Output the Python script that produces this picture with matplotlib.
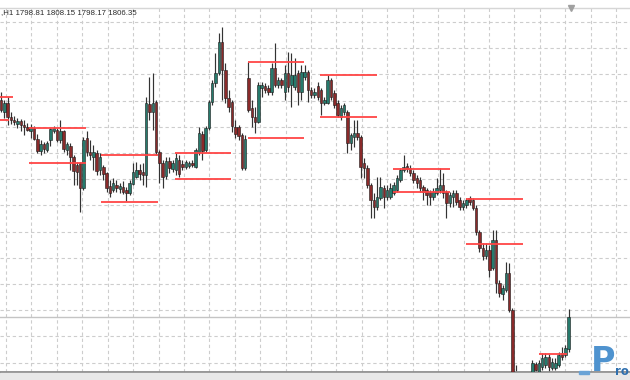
import matplotlib
matplotlib.use('Agg')
import matplotlib.pyplot as plt
import numpy as np
from matplotlib.patches import Rectangle

# H1 bars, oldest first
opens = [
    1857.5, 1854.7, 1856.8, 1853.5, 1852.8, 1851.9, 1852.6, 1851.6, 1851.2, 1850.2,
    1850.9, 1848.3, 1845.5, 1847.2, 1845.7, 1848.1, 1850.2, 1850.5, 1848.1, 1850.2,
    1845.7, 1846.7, 1844.1, 1842.2, 1842.7, 1836.8, 1848.6, 1845.3, 1844.1, 1845.0,
    1841.0, 1841.7, 1840.3, 1837.2, 1836.3, 1837.5, 1836.5, 1837.0, 1836.3, 1835.6,
    1837.7, 1839.4, 1841.0, 1840.5, 1839.8, 1856.6, 1854.7, 1857.1, 1845.3, 1842.7,
    1839.6, 1843.1, 1841.3, 1841.0, 1843.4, 1842.4, 1841.7, 1842.0, 1842.7, 1841.7,
    1845.3, 1849.5, 1845.7, 1850.9, 1857.1, 1861.5, 1863.9, 1871.2, 1864.6, 1858.0,
    1857.1, 1851.2, 1851.2, 1849.3, 1841.5, 1862.7, 1855.6, 1853.5, 1852.3, 1860.4,
    1860.8, 1860.4, 1859.4, 1865.1, 1861.1, 1862.2, 1859.4, 1863.9, 1861.1, 1860.6,
    1863.9, 1859.4, 1862.9, 1864.1, 1859.9, 1858.7, 1860.8, 1859.9, 1856.8, 1856.8,
    1862.2, 1859.2, 1856.8, 1853.5, 1854.7, 1854.7, 1847.4, 1848.8, 1849.7, 1848.8,
    1842.7, 1841.5, 1837.5, 1833.9, 1832.3, 1834.4, 1836.8, 1834.7, 1834.7, 1835.6,
    1836.3, 1838.7, 1841.0, 1842.0, 1841.5, 1840.3, 1839.1, 1838.7, 1837.0, 1836.3,
    1835.8, 1834.7, 1835.6, 1836.3, 1837.5, 1835.8, 1833.2, 1834.7, 1835.6, 1833.9,
    1832.3, 1832.8, 1834.4, 1833.9, 1832.1, 1826.4, 1822.6, 1820.7, 1822.2, 1817.9,
    1824.5, 1814.4, 1811.8, 1812.7, 1816.7, 1808.0, 1790.3, 1788.0, 1786.8, 1789.1,
    1787.3, 1792.4, 1795.3, 1793.4, 1794.6, 1795.0, 1796.9, 1794.3, 1794.3, 1795.0,
    1797.9, 1797.4, 1798.81]
highs = [
    1859.4, 1857.5, 1858.2, 1854.7, 1853.8, 1853.3, 1853.0, 1852.8, 1852.1, 1851.9,
    1851.4, 1849.5, 1848.1, 1847.6, 1847.9, 1850.9, 1851.4, 1850.9, 1852.8, 1850.5,
    1847.6, 1847.4, 1844.6, 1842.9, 1842.9, 1848.8, 1850.2, 1848.1, 1846.9, 1845.7,
    1845.0, 1842.2, 1840.5, 1838.7, 1839.1, 1838.7, 1838.0, 1838.4, 1837.0, 1838.7,
    1842.7, 1842.9, 1842.4, 1842.7, 1858.2, 1862.9, 1863.9, 1857.5, 1845.7, 1843.4,
    1844.1, 1844.1, 1843.4, 1845.0, 1844.6, 1843.4, 1843.4, 1843.1, 1843.4, 1846.2,
    1851.2, 1850.2, 1851.4, 1857.5, 1862.2, 1868.6, 1873.3, 1874.7, 1866.2, 1859.9,
    1857.5, 1852.8, 1851.6, 1849.7, 1849.3, 1866.5, 1857.5, 1855.9, 1861.8, 1861.8,
    1861.5, 1861.1, 1866.2, 1871.0, 1862.9, 1862.7, 1865.8, 1868.8, 1868.6, 1867.4,
    1864.6, 1865.8, 1865.8, 1864.6, 1860.6, 1860.4, 1861.8, 1860.4, 1858.2, 1863.4,
    1862.7, 1859.9, 1857.5, 1856.3, 1856.8, 1855.2, 1849.7, 1852.8, 1852.8, 1849.3,
    1843.8, 1842.2, 1838.0, 1835.6, 1839.4, 1839.4, 1837.5, 1837.5, 1838.0, 1838.2,
    1839.8, 1841.5, 1844.6, 1842.7, 1842.2, 1841.0, 1839.8, 1839.4, 1837.5, 1836.8,
    1836.3, 1836.8, 1839.1, 1841.5, 1840.3, 1836.3, 1835.8, 1836.3, 1836.3, 1834.7,
    1833.9, 1834.4, 1834.9, 1834.4, 1832.8, 1826.9, 1823.8, 1823.8, 1823.3, 1826.9,
    1826.9, 1815.1, 1813.9, 1819.3, 1819.1, 1808.5, 1795.0, 1790.3, 1791.5, 1792.0,
    1792.4, 1796.2, 1795.7, 1796.2, 1797.9, 1797.9, 1797.6, 1796.7, 1796.7, 1798.1,
    1799.3, 1799.8, 1808.15]
lows = [
    1854.7, 1853.3, 1851.6, 1851.9, 1851.6, 1850.9, 1850.2, 1849.3, 1850.2, 1848.6,
    1848.1, 1845.0, 1844.6, 1845.0, 1845.3, 1846.7, 1849.7, 1847.6, 1847.4, 1845.3,
    1844.6, 1841.0, 1837.5, 1837.5, 1831.1, 1836.3, 1844.3, 1843.4, 1841.0, 1839.8,
    1839.8, 1838.7, 1835.8, 1834.7, 1835.8, 1835.8, 1835.6, 1835.4, 1833.7, 1835.1,
    1837.5, 1839.1, 1838.7, 1837.5, 1837.0, 1852.8, 1850.5, 1844.6, 1838.0, 1836.8,
    1838.9, 1840.3, 1840.5, 1839.8, 1839.4, 1841.0, 1841.3, 1841.5, 1841.7, 1841.5,
    1844.6, 1843.4, 1845.3, 1850.5, 1856.3, 1860.6, 1863.4, 1857.5, 1856.8, 1854.7,
    1850.0, 1848.6, 1848.1, 1841.0, 1841.0, 1854.7, 1851.2, 1849.7, 1852.1, 1858.2,
    1859.2, 1858.7, 1858.7, 1860.6, 1860.4, 1860.4, 1857.5, 1859.4, 1855.9, 1859.9,
    1856.3, 1857.5, 1862.2, 1857.1, 1858.0, 1858.0, 1857.5, 1854.0, 1856.3, 1856.6,
    1857.5, 1855.6, 1853.5, 1852.8, 1854.0, 1845.0, 1845.7, 1846.4, 1848.1, 1839.1,
    1839.1, 1836.8, 1829.7, 1829.7, 1831.6, 1833.9, 1832.1, 1833.9, 1834.2, 1835.1,
    1835.8, 1838.2, 1840.5, 1840.5, 1839.6, 1838.0, 1836.8, 1835.8, 1833.9, 1832.8,
    1832.8, 1833.9, 1835.1, 1835.6, 1834.4, 1829.7, 1832.3, 1832.3, 1832.8, 1831.6,
    1831.6, 1832.1, 1832.8, 1831.6, 1825.7, 1821.7, 1819.8, 1820.0, 1815.8, 1817.4,
    1812.0, 1811.1, 1810.4, 1812.2, 1807.5, 1789.1, 1786.8, 1784.4, 1785.6, 1786.3,
    1786.8, 1792.0, 1792.9, 1792.9, 1793.9, 1794.3, 1793.4, 1793.9, 1793.9, 1794.6,
    1796.2, 1796.9, 1798.17]
closes = [
    1855.2, 1856.8, 1853.5, 1852.8, 1852.3, 1852.6, 1851.6, 1851.2, 1850.5, 1851.2,
    1848.3, 1845.5, 1847.2, 1846.0, 1847.4, 1850.7, 1850.9, 1848.1, 1850.2, 1846.0,
    1847.2, 1844.1, 1840.8, 1840.5, 1836.8, 1848.1, 1845.3, 1844.6, 1845.3, 1840.8,
    1844.1, 1840.1, 1836.8, 1835.6, 1838.0, 1836.8, 1837.2, 1835.8, 1835.6, 1838.0,
    1840.5, 1841.0, 1840.1, 1839.8, 1856.8, 1854.7, 1856.8, 1845.3, 1842.7, 1839.4,
    1843.1, 1841.5, 1842.7, 1843.8, 1840.1, 1841.7, 1842.9, 1842.7, 1842.2, 1845.7,
    1849.7, 1845.5, 1850.9, 1857.1, 1861.5, 1863.9, 1871.2, 1864.6, 1858.0, 1855.9,
    1851.4, 1849.5, 1849.0, 1841.5, 1848.3, 1855.2, 1853.5, 1852.3, 1861.1, 1861.1,
    1859.9, 1859.4, 1865.1, 1861.1, 1862.2, 1861.1, 1863.9, 1860.6, 1863.4, 1863.4,
    1859.4, 1864.1, 1864.1, 1859.9, 1858.7, 1859.4, 1858.2, 1856.8, 1857.5, 1862.2,
    1858.2, 1856.3, 1854.0, 1855.6, 1856.3, 1847.4, 1849.3, 1849.7, 1848.8, 1841.7,
    1841.5, 1837.5, 1833.9, 1832.3, 1834.7, 1837.0, 1834.7, 1836.3, 1836.8, 1837.5,
    1839.1, 1841.0, 1841.7, 1841.3, 1840.3, 1838.7, 1838.0, 1836.8, 1835.8, 1835.1,
    1834.7, 1835.8, 1836.8, 1837.5, 1835.6, 1833.2, 1835.1, 1835.6, 1833.5, 1832.3,
    1833.2, 1833.9, 1833.5, 1832.1, 1826.4, 1822.6, 1820.7, 1822.2, 1817.4, 1824.5,
    1814.4, 1812.0, 1813.2, 1816.7, 1808.0, 1790.3, 1788.0, 1786.8, 1789.1, 1787.3,
    1792.0, 1795.5, 1793.9, 1795.5, 1796.7, 1796.9, 1794.6, 1795.7, 1795.5, 1797.4,
    1796.9, 1799.0, 1806.35]

# red range lines: price, first bar, last bar
level_price = [1858.2, 1852.8, 1850.9, 1842.7, 1844.5, 1833.5, 1845.0, 1838.9,
               1866.5, 1848.6, 1863.4, 1853.5, 1841.3, 1835.8, 1834.2, 1823.6, 1797.6]
level_start = [-0.3, -0.3, 8.5, 8.5, 30.3, 30.3, 52.7, 52.7,
               74.8, 74.8, 96.7, 96.7, 118.8, 118.8, 140.9, 140.9, 163.0]
level_end = [3.6, 2.4, 25.8, 25.8, 47.6, 47.6, 69.7, 69.7,
             91.8, 91.8, 113.9, 113.9, 136.0, 136.0, 158.2, 158.2, 171.5]

W, H = 630, 380
fig = plt.figure(figsize=(W / 100, H / 100), dpi=100)
fig.patch.set_facecolor('white')
ax = fig.add_axes([0, 8 / H, 1, 364 / H])

o = np.array(opens); hi = np.array(highs); lo = np.array(lows); c = np.array(closes)
x = np.arange(len(c))
up = c >= o

ax.vlines(x, lo, hi, color='#333333', lw=0.85, zorder=2)
bottom = np.minimum(o, c)
height = np.maximum(np.abs(c - o), 0.25)
ax.bar(x[up], height[up], bottom=bottom[up], width=0.74, color='#267a6c',
       edgecolor='#1c1c1c', lw=0.4, zorder=3)
ax.bar(x[~up], height[~up], bottom=bottom[~up], width=0.74, color='#8a2a2a',
       edgecolor='#1c1c1c', lw=0.4, zorder=3)

ax.hlines(level_price, level_start, level_end, color='#ff4545', lw=1.3, zorder=4)
ax.axhline(c[-1], color='#c4c4c4', lw=1, zorder=1)

ax.set_xlim(-1 / 3.3, 629 / 3.3)
ax.set_ylim(1793.38, 1879.21)
ax.set_xticks(np.arange(1.515, 191, 7.703))
ax.set_yticks(np.arange(1875.91, 1793, -6.178))
ax.grid(True, color='#cdcdcd', ls=(0, (3, 2.5)), lw=0.8)
ax.set_axisbelow(True)
ax.tick_params(length=0, labelbottom=False, labelleft=False)
for s in ['left', 'right']:
    ax.spines[s].set_visible(False)
ax.spines['top'].set_color('#d6d6d6')
ax.spines['top'].set_linewidth(1)
ax.spines['bottom'].set_color('#8c8c8c')
ax.spines['bottom'].set_linewidth(2)

# shift marker at the top
ax.plot(172.7, 1879.21, marker='v', color='#a0a0a0', ms=4, clip_on=False, zorder=5)

fig.patches.append(Rectangle((0, 0), 1, 7 / H, transform=fig.transFigure,
                             color='#e8e8e8', zorder=0))

header = ',H1 %.2f %.2f %.2f %.2f' % (opens[-1], highs[-1], lows[-1], closes[-1])
fig.text(1 / W, 1 - 13 / H, header, fontsize=5.7, family='Liberation Sans',
         color='#2a2a2a', va='center', ha='left')

# watermark
fig.patches.append(Rectangle((579 / W, 6 / H), 10 / W, 3 / H, transform=fig.transFigure,
                             color='#6aa3d6', zorder=6))
fig.text(591 / W, 2 / H, 'P', fontsize=24, weight='bold', color='#4f93cf',
         va='bottom', ha='left', zorder=7)
fig.text(615 / W, 2 / H, 'ro', fontsize=8.5, weight='bold', color='#2e6fae',
         va='bottom', ha='left', zorder=7)

fig.savefig('out.png', dpi=100)
